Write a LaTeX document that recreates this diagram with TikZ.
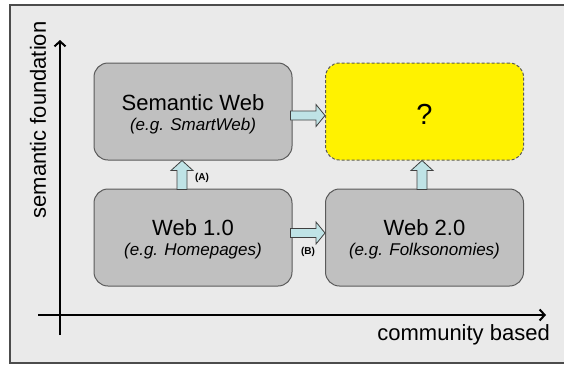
\documentclass[tikz,border=0pt]{standalone}
\usepackage{fontspec}
\setmainfont{Liberation Sans}
\usetikzlibrary{calc,arrows.meta}
\definecolor{bg}{HTML}{EAEAEA}
\definecolor{boxgray}{HTML}{C0C0C0}
\definecolor{boxline}{HTML}{5A5A5A}
\definecolor{arrfill}{HTML}{BFE3E6}
\definecolor{arrline}{HTML}{404040}
\tikzset{
  box/.style={draw=boxline, line width=1pt, fill=boxgray, rounded corners=14pt,
    minimum width=198pt, minimum height=97pt, inner sep=0pt},
  qbox/.style={box, fill=yellow, dashed, dash pattern=on 3pt off 2pt},
  title/.style={font=\fontsize{22}{24}\selectfont, inner sep=0pt},
  sub/.style={font=\fontsize{17}{20}\selectfont\itshape, inner sep=0pt},
  barrow/.style={draw=arrline, line width=0.8pt, fill=arrfill},
  axis/.style={line width=2pt, black},
  axlabel/.style={font=\fontsize{22}{24}\selectfont, inner sep=0pt},
  small/.style={font=\fontsize{10}{12}\selectfont\bfseries, inner sep=0pt}
}
\begin{document}
\begin{tikzpicture}[x=1pt,y=-1pt]
\useasboundingbox (0,0) rectangle (564,365);
\fill[bg] (10,5) rectangle (570,363);
\draw[gray!60!black, line width=1.5pt] (570,5) -- (10,5) -- (10,363) -- (570,363);

% axes
\coordinate (yb) at (60,335);
\coordinate (yt) at (60,40);
\coordinate (xl) at (38,315);
\coordinate (xr) at (546,315);
\draw[axis,-{Straight Barb[length=5pt,width=11pt,line width=2pt]}] (yb) -- (yt);
\draw[axis,-{Straight Barb[length=5pt,width=11pt,line width=2pt]}] (xl) -- (xr);
\node[axlabel, rotate=90] (ylab) at (38,120) {semantic foundation};
\node[axlabel, anchor=base east] (xlab) at (550,340) {community based};

% boxes
\node[box] (sw) at (193,111.5) {};
\node[qbox] (q) at (424.5,111.5) {};
\node[box] (w1) at (193,237.5) {};
\node[box] (w2) at (424.5,237.5) {};

\node[title, anchor=base] (swt) at (193,110) {Semantic Web};
\node[sub, anchor=base] (sws) at (193,130) {(e.g. SmartWeb)};
\node[font=\fontsize{29}{30}\selectfont, inner sep=0pt] (qt) at (424.5,114) {?};
\node[title, anchor=base] (w1t) at (193,235) {Web 1.0};
\node[sub, anchor=base] (w1s) at (193,255) {(e.g. Homepages)};
\node[title, anchor=base] (w2t) at (424.5,235) {Web 2.0};
\node[sub, anchor=base] (w2s) at (424.5,255) {(e.g. Folksonomies)};

% block arrows
% Semantic Web -> ?
\draw[barrow] ($(sw.east)+(-2,-0.5)$) -- ($(q.west)+(-9,-0.5)$) -- ($(q.west)+(-9,-7)$)
  -- ($(q.west)+(0,4)$) -- ($(q.west)+(-9,15)$) -- ($(q.west)+(-9,8.5)$) -- ($(sw.east)+(-2,8.5)$) -- cycle;
% Web 1.0 -> Web 2.0
\draw[barrow] ($(w1.east)+(-2,-9)$) -- ($(w2.west)+(-9,-9)$) -- ($(w2.west)+(-9,-15.5)$)
  -- ($(w2.west)+(0,-4.5)$) -- ($(w2.west)+(-9,6.5)$) -- ($(w2.west)+(-9,0)$) -- ($(w1.east)+(-2,0)$) -- cycle;
% Web 1.0 -> Semantic Web
\draw[barrow] ($(w1.north)+(-16,1)$) -- ($(sw.south)+(-16,10)$) -- ($(sw.south)+(-22,10)$)
  -- ($(sw.south)+(-11,0)$) -- ($(sw.south)+(0,10)$) -- ($(sw.south)+(-6,10)$) -- ($(w1.north)+(-6,1)$) -- cycle;
% Web 2.0 -> ?
\draw[barrow] ($(w2.north)+(-7.5,1)$) -- ($(q.south)+(-7.5,10)$) -- ($(q.south)+(-13.5,10)$)
  -- ($(q.south)+(-2.5,0)$) -- ($(q.south)+(8.5,10)$) -- ($(q.south)+(2.5,10)$) -- ($(w2.north)+(2.5,1)$) -- cycle;

\node[small] (la) at (202,178) {(A)};
\node[small] (lb) at (308,252) {(B)};
\end{tikzpicture}
\end{document}
